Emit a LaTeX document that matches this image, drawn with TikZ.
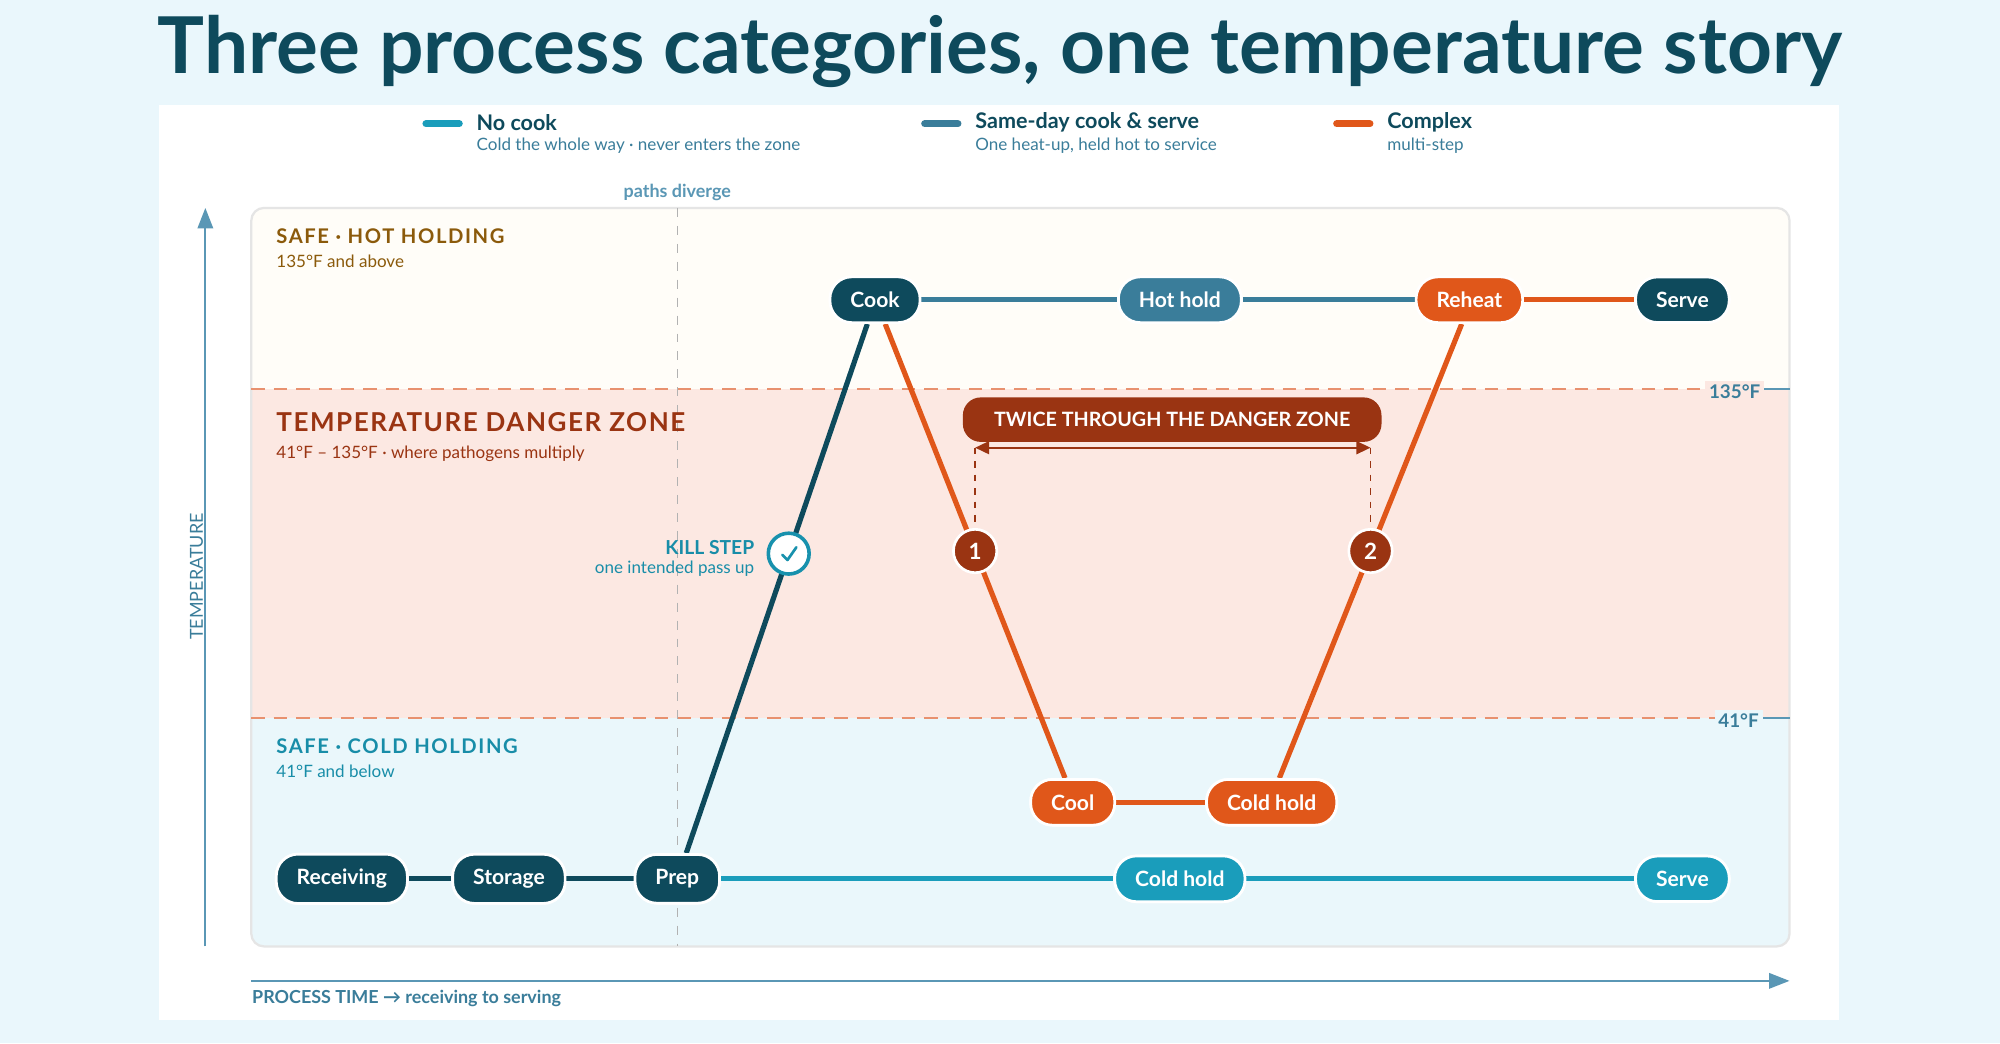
\documentclass[tikz,border=0pt]{standalone}
\usepackage{fontspec}
\setmainfont{Lato}
\usetikzlibrary{calc,arrows.meta}
\definecolor{bgblue}{HTML}{EAF7FC}
\definecolor{navy}{HTML}{0E4A5C}
\definecolor{teal}{HTML}{1A9DBB}
\definecolor{steel}{HTML}{3A7D9A}
\definecolor{orng}{HTML}{E0571A}
\definecolor{rust}{HTML}{9A3412}
\definecolor{amber}{HTML}{8B5A0B}
\definecolor{hotband}{HTML}{FFFDF8}
\definecolor{dangerband}{HTML}{FCE8E2}
\definecolor{coldband}{HTML}{EAF7FB}
\definecolor{dashline}{HTML}{E8916F}
\definecolor{axisblue}{HTML}{5A97B5}
\tikzset{
  stage/.style={rounded corners=1.7mm, minimum height=3.5mm, inner xsep=1.6mm,
    draw=white, line width=0.6pt, text=white,
    font=\fontsize{4.7}{5}\selectfont\bfseries},
  badge/.style={circle, draw=white, line width=0.6pt, fill=rust, text=white,
    minimum size=3.4mm, inner sep=0pt, font=\fontsize{5}{5}\selectfont\bfseries},
  route/.style={line width=1.15pt},
  smalltxt/.style={font=\fontsize{3.8}{4.5}\selectfont},
  headtxt/.style={font=\fontsize{4.8}{5.5}\selectfont\bfseries},
}
\begin{document}
\begin{tikzpicture}[x=0.01cm,y=-0.01cm]
  \useasboundingbox (0,0) rectangle (1568,818);
  \fill[bgblue] (0,0) rectangle (1568,818);
  \fill[white] (125,82) rectangle (1442,800);
  % title
  \node (title) at (784,40) {\resizebox{13.2cm}{!}{\color{navy}\bfseries Three process categories, one temperature story}};
  % legend
  \foreach \x/\c/\t/\s in {334/teal/No cook/Cold the whole way · never enters the zone,
      725/steel/Same-day cook \& serve/{One heat-up, held hot to service},
      1048/orng/Complex / multi-step/{Cook, cool, hold, reheat}}{
    \draw[\c, line width=1.6pt, line cap=round] (\x,97) -- ++(26,0);
    \node[headtxt, anchor=west, text=navy, inner sep=0pt] at (\x+39,96) {\t};
    \node[smalltxt, anchor=west, text=steel, inner sep=0pt] at (\x+39,114) {\s};
  }
  % bands
  \begin{scope}
    \clip[rounded corners=1mm] (197,163) rectangle (1403,742);
    \fill[hotband] (197,163) rectangle (1403,305);
    \fill[dangerband] (197,305) rectangle (1403,563);
    \fill[coldband] (197,563) rectangle (1403,742);
  \end{scope}
  \draw[black!10, rounded corners=1mm, line width=0.5pt] (197,163) rectangle (1403,742);
  \draw[dashline, dashed, line width=0.6pt, dash pattern=on 3pt off 2pt] (197,305) -- (1403,305) (197,563) -- (1403,563);
  \draw[axisblue, line width=0.5pt] (1380,305) -- (1403,305) (1380,563) -- (1403,563);
  \node[font=\fontsize{4.2}{5}\selectfont\bfseries, text=steel, fill=dangerband, inner sep=0.3mm] (hotlim) at (1360,307) {135°F};
  \node[font=\fontsize{4.2}{5}\selectfont\bfseries, text=steel, fill=coldband, inner sep=0.3mm] (coldlim) at (1363,565) {41°F};
  % divergence
  \draw[black!30, dashed, line width=0.35pt, dash pattern=on 2pt off 2pt] (531,163) -- (531,742);
  \node[font=\fontsize{4}{5}\selectfont\bfseries, text=axisblue] (diverge) at (531,151) {paths diverge};
  % zone labels
  \node[font=\fontsize{4.5}{5}\selectfont\bfseries\addfontfeatures{LetterSpace=8}, text=amber, anchor=west, inner sep=0pt] at (216,185) {SAFE · HOT HOLDING};
  \node[smalltxt, text=amber, anchor=west, inner sep=0pt] at (216,205) {135°F and above};
  \node[font=\fontsize{5.8}{6}\selectfont\bfseries\addfontfeatures{LetterSpace=6}, text=rust, anchor=west, inner sep=0pt] at (216,331) {TEMPERATURE DANGER ZONE};
  \node[smalltxt, text=rust, anchor=west, inner sep=0pt] at (216,356) {41°F – 135°F · where pathogens multiply};
  \node[font=\fontsize{4.5}{5}\selectfont\bfseries\addfontfeatures{LetterSpace=8}, text=teal!80!navy, anchor=west, inner sep=0pt] at (216,585) {SAFE · COLD HOLDING};
  \node[smalltxt, text=teal!80!navy, anchor=west, inner sep=0pt] at (216,605) {41°F and below};
  % axes
  \draw[axisblue, line width=0.5pt, -{Triangle[length=1.6mm,width=1.2mm]}] (161,742) -- (161,163);
  \node[rotate=90, font=\fontsize{4}{5}\selectfont, text=steel] (yaxis) at (154,452) {TEMPERATURE};
  \draw[axisblue, line width=0.5pt, -{Triangle[length=1.6mm,width=1.2mm]}] (197,769) -- (1403,769);
  \node[font=\fontsize{4}{5}\selectfont\bfseries, text=steel, anchor=west, inner sep=0pt] (xaxis) at (197,783) {PROCESS TIME → receiving to serving};
  % stages
  \node[stage, fill=navy] (recv) at (268,689) {Receiving};
  \node[stage, fill=navy] (stor) at (399,689) {Storage};
  \node[stage, fill=navy] (prep) at (531,689) {Prep};
  \node[stage, fill=teal] (coldA) at (925,689) {Cold hold};
  \node[stage, fill=teal] (serveA) at (1319,689) {Serve};
  \node[stage, fill=navy] (cook) at (686,235) {Cook};
  \node[stage, fill=steel] (hot) at (925,235) {Hot hold};
  \node[stage, fill=orng] (reheat) at (1152,235) {Reheat};
  \node[stage, fill=navy] (serveB) at (1319,235) {Serve};
  \node[stage, fill=orng] (cool) at (841,629) {Cool};
  \node[stage, fill=orng] (coldB) at (997,629) {Cold hold};
  % routes
  \draw[route, navy] (recv) -- (stor) (stor) -- (prep);
  \draw[route, teal] (prep) -- (coldA) (coldA) -- (serveA);
  \draw[route, navy] ([xshift=0.7mm]prep.north) -- coordinate[pos=0.566] (kill) ([xshift=-0.6mm]cook.south);
  \draw[route, steel] (cook) -- (hot) (hot) -- (reheat);
  \draw[route, orng] ([xshift=0.8mm]cook.south) -- coordinate (one) ([xshift=-0.6mm]cool.north);
  \draw[route, orng] (cool) -- (coldB) (reheat) -- (serveB);
  \draw[route, orng] ([xshift=0.6mm]coldB.north) -- coordinate (two) ([xshift=-0.6mm]reheat.south);
  % redraw stages on top
  \foreach \n/\c/\t in {recv/navy/Receiving, stor/navy/Storage, prep/navy/Prep, coldA/teal/Cold hold,
      serveA/teal/Serve, cook/navy/Cook, hot/steel/Hot hold, reheat/orng/Reheat, serveB/navy/Serve,
      cool/orng/Cool, coldB/orng/Cold hold}{
    \node[stage, fill=\c] at (\n) {\t};
  }
  % markers
  \node[badge] (b1) at (one) {1};
  \node[badge] (b2) at (two) {2};
  \node[circle, draw=teal!85!navy, fill=white, line width=0.8pt, minimum size=3.2mm, inner sep=0pt] (check) at (kill) {};
  \draw[teal!85!navy, line width=0.6pt, line cap=round, line join=round] ($(check)+(-5,1)$) -- ($(check)+(-1,5)$) -- ($(check)+(6,-5)$);
  \node[font=\fontsize{4.3}{5}\selectfont\bfseries, text=teal!80!navy, anchor=east, inner sep=0pt] (killlbl) at (592,429) {KILL STEP};
  \node[smalltxt, text=teal!80!navy, anchor=east, inner sep=0pt] at (592,446) {one intended pass up};
  % twice banner
  \node[fill=rust, text=white, rounded corners=1.4mm, minimum height=2.9mm, minimum width=3.28cm,
    font=\fontsize{4.4}{5}\selectfont\bfseries] (twice) at (919,329) {TWICE THROUGH THE DANGER ZONE};
  \coordinate (span) at (0,351);
  \draw[rust, line width=0.5pt, {Triangle[length=1.1mm,width=1mm]}-{Triangle[length=1.1mm,width=1mm]}] (b1 |- span) -- (b2 |- span);
  \draw[rust, line width=0.4pt, dashed, dash pattern=on 1.5pt off 1.5pt] (b1 |- span) -- (b1.north) (b2 |- span) -- (b2.north);
\end{tikzpicture}
\end{document}
